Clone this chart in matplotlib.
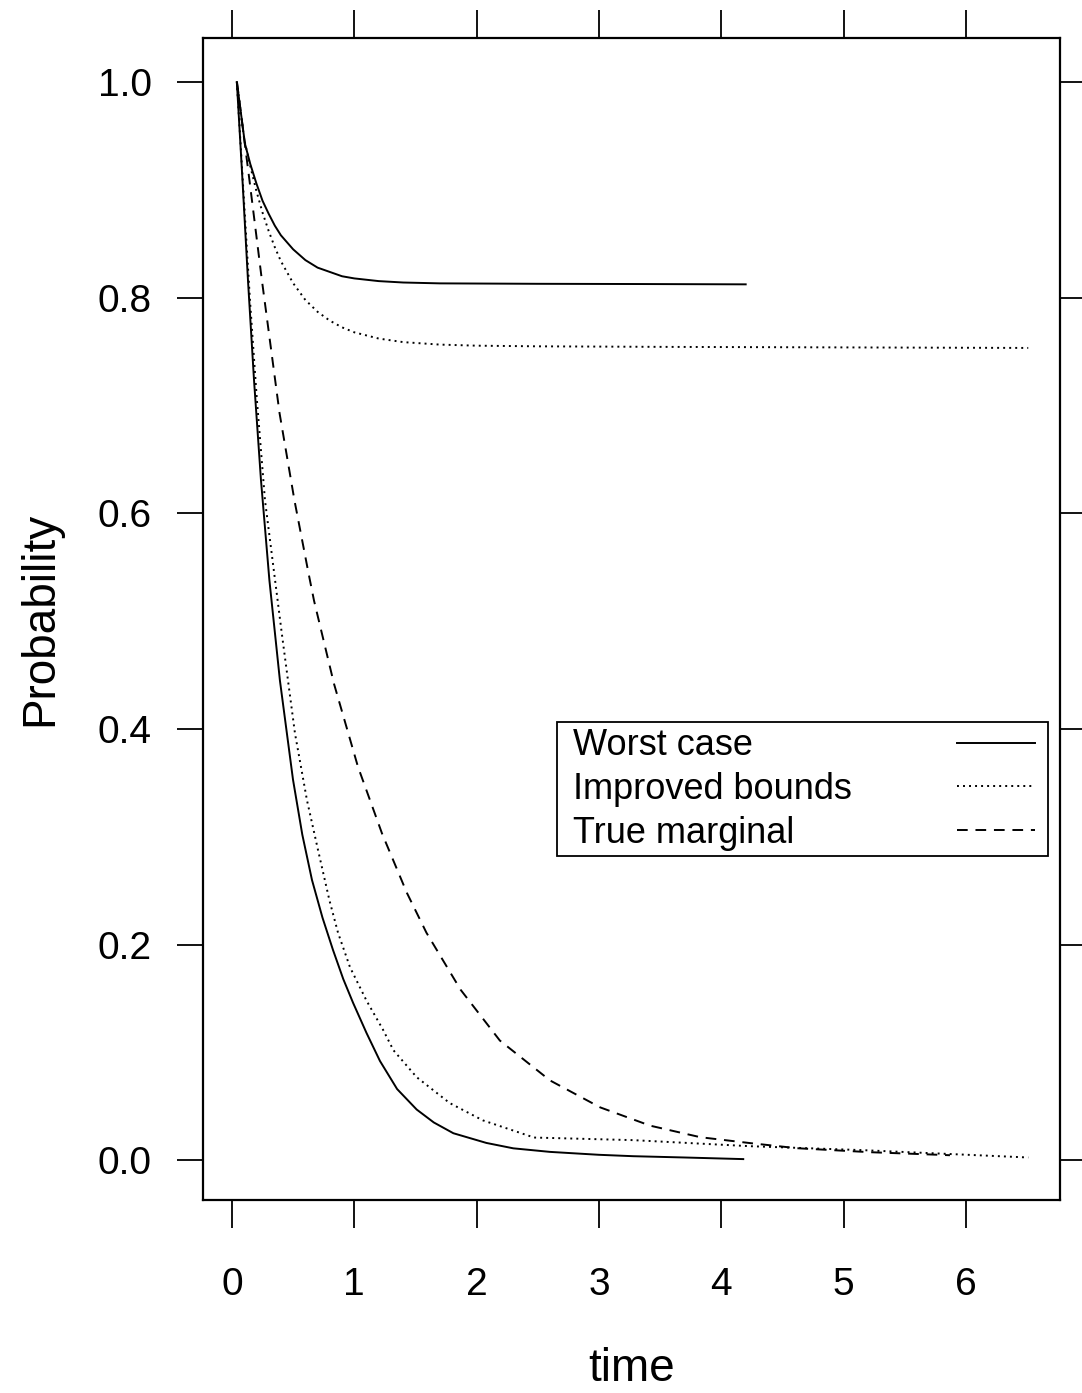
import matplotlib
matplotlib.use("Agg")
import matplotlib.pyplot as plt
from matplotlib.offsetbox import DrawingArea

plt.rcParams['font.family'] = ['Liberation Sans', 'DejaVu Sans']

# worst case bounds (upper and lower)
worst_up_t = [0.04, 0.106, 0.15, 0.2, 0.25, 0.3, 0.35, 0.4, 0.5, 0.6, 0.7, 0.8, 0.9, 1.0, 1.2, 1.4, 1.7,
              2.5, 3.3, 4.2]
worst_up_p = [1.0, 0.943, 0.924, 0.906, 0.890, 0.878, 0.867, 0.858, 0.845, 0.835, 0.828, 0.824, 0.820,
              0.818, 0.8155, 0.8142, 0.8134, 0.813, 0.8128, 0.8125]
worst_lo_t = [0.04, 0.086, 0.131, 0.18, 0.237, 0.306, 0.392, 0.499, 0.575, 0.654, 0.74, 0.826, 0.91, 0.99,
              1.1, 1.21, 1.35, 1.51, 1.65, 1.81, 2.08, 2.3, 2.6, 3.0, 3.28, 3.7, 4.18]
worst_lo_p = [1.0, 0.909, 0.816, 0.724, 0.631, 0.538, 0.445, 0.353, 0.302, 0.260, 0.225, 0.195, 0.168,
              0.146, 0.118, 0.092, 0.066, 0.047, 0.035, 0.025, 0.016, 0.011, 0.0077, 0.005, 0.0037,
              0.0025, 0.001]

# improved bounds (upper and lower)
impr_up_t = [0.04, 0.1, 0.15, 0.2, 0.25, 0.3, 0.35, 0.4, 0.5, 0.6, 0.7, 0.8, 0.9, 1.0, 1.2, 1.4, 1.7,
             2.0, 2.5, 3.5, 5.0, 6.51]
impr_up_p = [1.0, 0.947, 0.922, 0.899, 0.879, 0.862, 0.847, 0.834, 0.8136, 0.798, 0.787, 0.7788, 0.7726,
             0.768, 0.7622, 0.7589, 0.7566, 0.7556, 0.755, 0.7545, 0.754, 0.7535]
impr_lo_t = [0.04, 0.098, 0.147, 0.204, 0.270, 0.407, 0.515, 0.613, 0.703, 0.797, 0.867, 0.965, 1.10,
             1.235, 1.32, 1.51, 1.78, 2.05, 2.47, 3.28, 4.23, 5.16, 6.51]
impr_lo_p = [1.0, 0.8905, 0.798, 0.705, 0.612, 0.489, 0.396, 0.334, 0.288, 0.241, 0.211, 0.179, 0.148,
             0.121, 0.102, 0.077, 0.053, 0.037, 0.021, 0.0186, 0.013, 0.0093, 0.0025]

# true marginal
true_t = [0.041, 0.143, 0.245, 0.389, 0.511, 0.625, 0.671, 0.834, 1.03, 1.227, 1.43, 1.59, 1.87, 2.19,
          2.60, 3.01, 3.42, 3.83, 4.24, 4.62, 5.22, 5.87]
true_p = [1.0, 0.909, 0.816, 0.693, 0.612, 0.545, 0.519, 0.442, 0.365, 0.303, 0.248, 0.211, 0.158, 0.111,
          0.074, 0.049, 0.032, 0.0213, 0.0158, 0.0111, 0.0074, 0.0046]

labels = ['Worst case', 'Improved bounds', 'True marginal']
xticks = [0, 1, 2, 3, 4, 5, 6]
yticks = [0.0, 0.2, 0.4, 0.6, 0.8, 1.0]

fig = plt.figure(figsize=(10.82, 13.93), dpi=100)
ax = fig.add_axes([0.1876, 0.1385, 0.7921, 0.8342])

lw = 1.4
dotted = (0, (1.0, 2.1))
dashed = (0, (5.5, 4))
ax.plot(worst_up_t, worst_up_p, color='black', lw=lw, label=labels[0])
ax.plot(worst_lo_t, worst_lo_p, color='black', lw=lw)
ax.plot(impr_up_t, impr_up_p, color='black', lw=lw, linestyle=dotted, label=labels[1])
ax.plot(impr_lo_t, impr_lo_p, color='black', lw=lw, linestyle=dotted)
ax.plot(true_t, true_p, color='black', lw=lw, linestyle=dashed, label=labels[2])

ax.set_xlim(-0.237, 6.77)
ax.set_ylim(-0.037, 1.041)
ax.set_xticks(xticks)
ax.set_xticklabels([str(v) for v in xticks])
ax.set_yticks(yticks)
ax.set_yticklabels(['%.1f' % v for v in yticks])

for s in ax.spines.values():
    s.set_linewidth(1.6)
ax.tick_params(axis='both', which='both', direction='out', top=True, right=True,
               labeltop=False, labelright=False, width=1.3, labelsize=28)
ax.tick_params(axis='x', length=20, pad=28)
ax.tick_params(axis='y', length=19, pad=18)

ax.set_xlabel('time', fontsize=33, labelpad=32)
ax.set_ylabel('Probability', fontsize=33, labelpad=25)

leg = ax.legend(loc='upper left', bbox_to_anchor=(0.413, 0.411), borderaxespad=0,
                fontsize=26, markerfirst=False, handlelength=2.15, handletextpad=0,
                borderpad=0.16, labelspacing=0.24, fancybox=False, framealpha=1,
                edgecolor='black')
leg.get_frame().set_linewidth(1.3)

# lattice style key: texts left aligned, line samples in one column on the right
fig.canvas.draw()
r = fig.canvas.get_renderer()
widths = [t.get_window_extent(r).width * 72.0 / fig.dpi for t in leg.get_texts()]
maxw = max(widths)
try:
    rows = leg._legend_handle_box.get_children()[0].get_children()
    for row, w in zip(rows, widths):
        tbox, hbox = row.get_children()
        row._children = [DrawingArea(7.6, 0), tbox, DrawingArea(75.5 + maxw - w, 0), hbox,
                         DrawingArea(5.5, 0)]
except Exception:
    pass

fig.savefig('out.png', dpi=100)
plt.close(fig)
